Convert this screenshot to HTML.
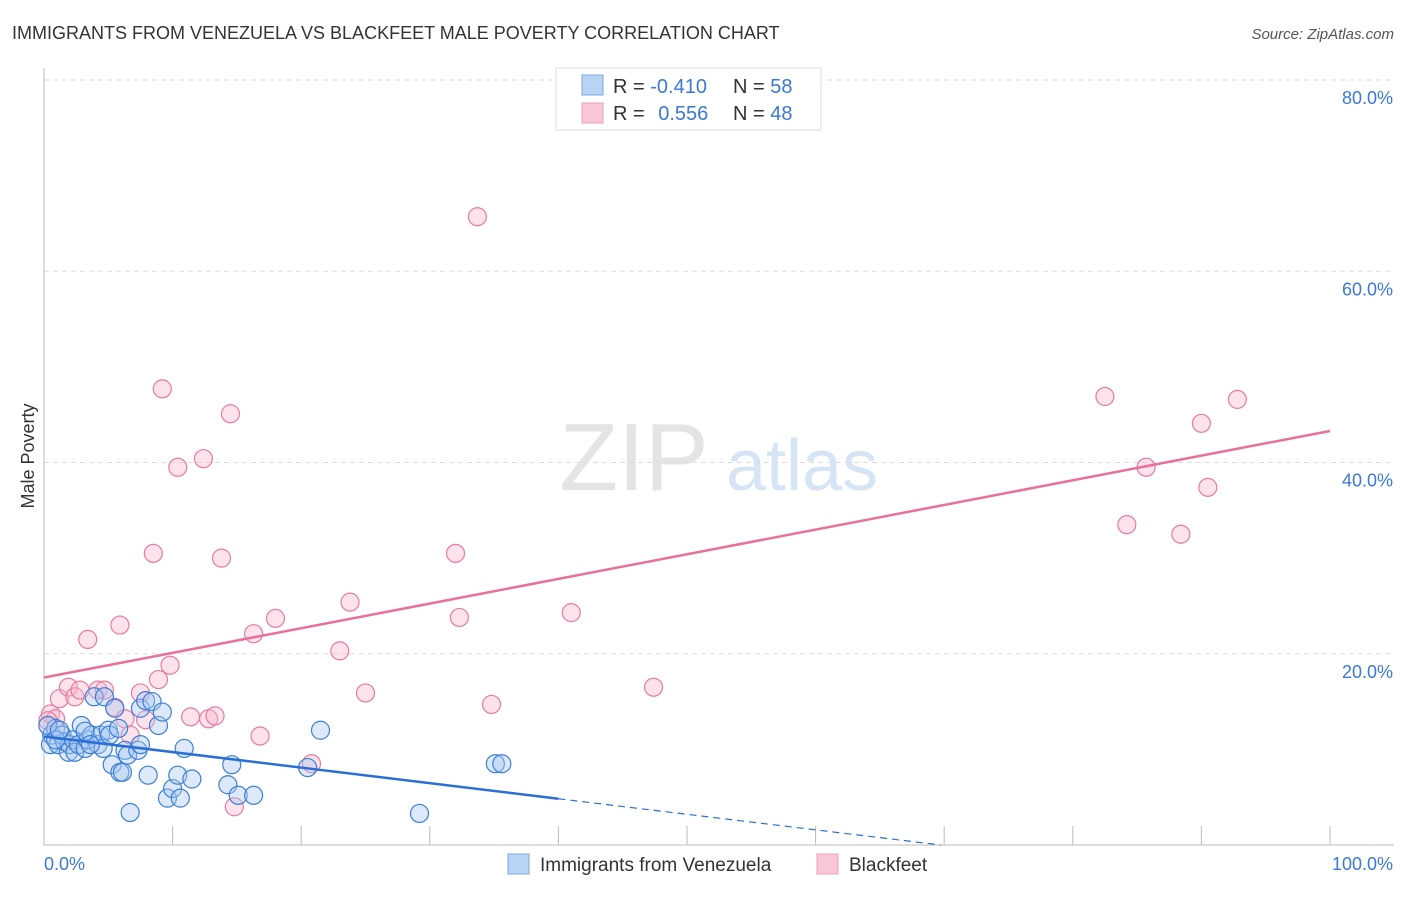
<!DOCTYPE html>
<html><head><meta charset="utf-8"><style>
body{margin:0;background:#fff;font-family:"Liberation Sans",sans-serif}
svg text{font-family:"Liberation Sans",sans-serif}
</style></head><body>
<svg id="c" width="1406" height="892">
<text x="12" y="39" font-size="18" fill="#333">IMMIGRANTS FROM VENEZUELA VS BLACKFEET MALE POVERTY CORRELATION CHART</text>
<text x="1394" y="39" font-size="15" fill="#555" font-style="italic" text-anchor="end">Source: ZipAtlas.com</text>
<text x="34" y="456" font-size="18" fill="#333" text-anchor="middle" transform="rotate(-90 34 456)">Male Poverty</text>
<g><text x="634" y="490" font-size="96" fill="#e4e4e4" font-family="Liberation Serif" text-anchor="middle">ZIP</text><text x="802" y="490" font-size="72" fill="#d6e4f5" text-anchor="middle">atlas</text></g>
<g id="grid"></g><g id="pts"></g><g id="lines"></g>
<g>
<rect x="556" y="68" width="265" height="62" fill="#fff" stroke="#ddd"/>
<rect x="582" y="75" width="21" height="20" fill="#b8d4f5" stroke="#7aa8e6"/>
<rect x="582" y="103" width="21" height="20" fill="#f9c6d6" stroke="#eea0b8"/>
<text x="613" y="93" font-size="20" fill="#333">R = <tspan fill="#3b78d8">-0.410</tspan></text>
<text x="733" y="93" font-size="20" fill="#333">N = <tspan fill="#3b78d8">58</tspan></text>
<text x="613" y="120" font-size="20" fill="#333">R = <tspan fill="#3b78d8" dx="8">0.556</tspan></text>
<text x="733" y="120" font-size="20" fill="#333">N = <tspan fill="#3b78d8">48</tspan></text>
</g>
<g>
<rect x="508" y="854" width="21" height="20" fill="#b8d4f5" stroke="#7aa8e6"/>
<text x="540" y="871" font-size="19" fill="#333">Immigrants from Venezuela</text>
<rect x="817" y="854" width="21" height="20" fill="#f9c6d6" stroke="#eea0b8"/>
<text x="849" y="871" font-size="19" fill="#333">Blackfeet</text>
</g>
</svg>
<script>
const yTicks=[20,40,60,80];
const xTickLabels=["0.0%","100.0%"];
const blueX=[0.5,0.6,0.9,1.1,1.4,1.6,1.9,2.0,2.3,2.4,2.7,2.9,3.2,3.4,3.7,3.9,4.2,4.4,4.6,4.7,5.0,5.1,5.3,5.5,5.8,5.9,6.1,6.3,6.5,6.7,7.3,7.5,7.9,8.1,8.4,8.9,9.2,9.6,10.0,10.4,10.6,10.9,11.5,14.3,14.6,15.1,16.3,20.5,21.5,29.2,35.1,35.6,0.3,0.9,1.2,3.2,3.6,7.5];
const blueY=[10.5,11.5,12.2,10.5,11.5,10.8,9.7,10.5,11.0,9.7,10.5,12.5,10.1,11.0,11.5,15.5,10.5,11.5,10.1,15.5,12.0,11.5,8.4,14.3,12.2,7.6,7.6,9.9,9.4,3.4,9.9,14.3,15.1,7.3,15.0,12.5,13.9,4.9,5.9,7.3,4.9,10.1,6.9,6.3,8.4,5.2,5.2,8.1,12.0,3.3,8.5,8.5,12.5,11.0,12.0,11.9,10.5,10.5];
const pinkX=[0.5,0.9,1.2,1.9,2.4,2.8,3.4,4.2,4.7,5.5,5.9,6.3,6.7,7.5,7.9,8.5,8.9,9.2,9.8,10.4,11.4,12.4,12.8,13.3,13.8,14.5,14.8,16.3,16.8,18.0,20.8,23.0,23.8,25.0,32.0,32.3,33.7,34.8,41.0,47.4,82.5,84.2,85.7,88.4,90.0,90.5,92.8,0.3];
const pinkY=[13.7,13.2,15.3,16.5,15.5,16.2,21.5,16.2,16.2,14.4,23.0,13.2,11.5,15.9,13.1,30.5,17.3,47.7,18.8,39.5,13.4,40.4,13.2,13.5,30.0,45.1,4.0,22.1,11.4,23.7,8.5,20.3,25.4,15.9,30.5,23.8,65.7,14.7,24.3,16.5,46.9,33.5,39.5,32.5,44.1,37.4,46.6,13.0];
const L=44,R=1330,T=80,B=845;
const sx=v=>L+(R-L)*v/100, sy=v=>B-(B-T)*v/80;
const NS="http://www.w3.org/2000/svg";
function mk(t,a,p){const e=document.createElementNS(NS,t);for(const k in a)e.setAttribute(k,a[k]);p.appendChild(e);return e;}
const g=document.getElementById('grid');
yTicks.forEach(v=>{
 const l=mk('line',{x1:L,x2:1394,y1:sy(v),y2:sy(v),stroke:'#ddd','stroke-dasharray':'5,4'},g);
 
 
 const t=mk('text',{x:1393,y:sy(v)+24,'font-size':18,fill:'#3b78d8','text-anchor':'end'},g);t.textContent=v.toFixed(1)+'%';
 
 
});
mk('line',{x1:L,x2:L,y1:68,y2:B,stroke:'#bbb'},g);
mk('line',{x1:L,x2:1394,y1:B,y2:B,stroke:'#bbb'},g);
for(let i=1;i<=10;i++){const tk=mk('line',{x1:sx(i*10),x2:sx(i*10),y1:826,y2:B,stroke:'#bbb'},g);
 
 }
const t0=mk('text',{x:44,y:870,'font-size':18,fill:'#3b78d8'},g);t0.textContent=xTickLabels[0];


const t1=mk('text',{x:1393,y:870,'font-size':18,fill:'#3b78d8','text-anchor':'end'},g);t1.textContent=xTickLabels[1];


const P=document.getElementById('pts');
function dots(X,Y,f,s,n){X.forEach((x,i)=>{const c=mk('circle',{cx:sx(x),cy:sy(Y[i]),r:9,fill:f,'fill-opacity':0.4,stroke:s,'stroke-width':1.2},P);
 
 });}
dots(pinkX,pinkY,'#f7b8cc','#e87aa0','blackfeet-point');
dots(blueX,blueY,'#a9c9f0','#3b7fd9','venezuela-point');
function fit(X,Y){const n=X.length;const mx=X.reduce((a,b)=>a+b)/n,my=Y.reduce((a,b)=>a+b)/n;let sxy=0,sxx=0;X.forEach((x,i)=>{sxy+=(x-mx)*(Y[i]-my);sxx+=(x-mx)**2});const b=sxy/sxx;return [my-b*mx,b];}
const Ln=document.getElementById('lines');
const [pa,pb]=fit(pinkX,pinkY);
const pl=mk('line',{x1:sx(0),y1:sy(pa),x2:sx(100),y2:sy(pa+pb*100),stroke:'#e8709a','stroke-width':2.5},Ln);


const [ba,bb]=fit(blueX,blueY);
const xe=40;
const bl=mk('line',{x1:sx(0),y1:sy(ba),x2:sx(xe),y2:sy(ba+bb*xe),stroke:'#2a6fd6','stroke-width':2.5},Ln);


const x0=bb<0?Math.min(100,-ba/bb):100;
const bd=mk('line',{x1:sx(xe),y1:sy(ba+bb*xe),x2:sx(x0),y2:sy(ba+bb*x0),stroke:'#2a6fd6','stroke-width':1.2,'stroke-dasharray':'7,5'},Ln);


</script>
</body></html>
